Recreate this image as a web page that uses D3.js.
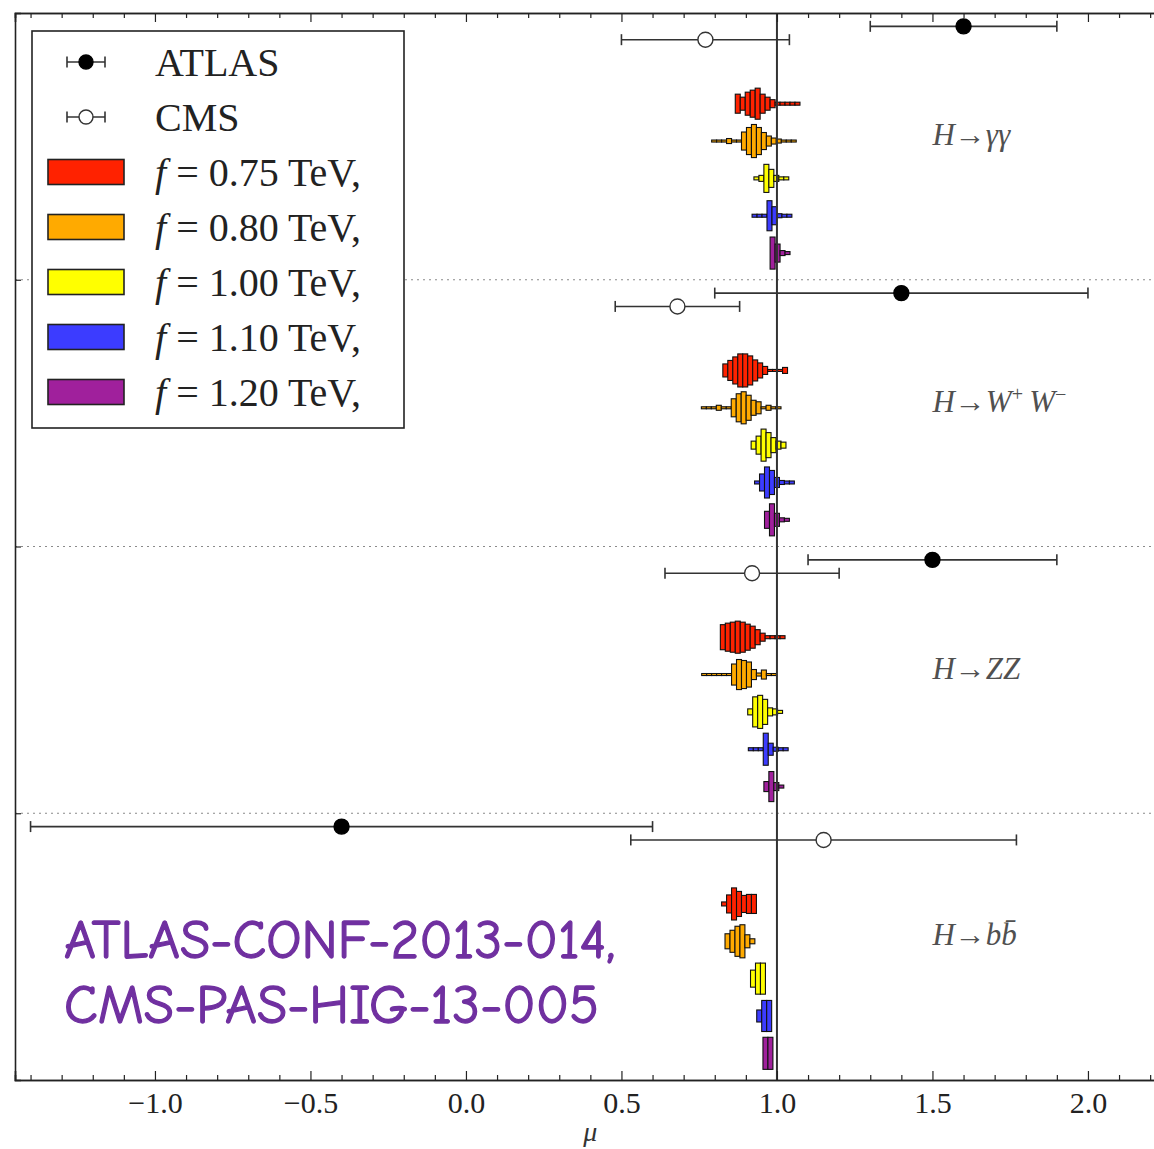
<!DOCTYPE html>
<html>
<head>
<meta charset="utf-8">
<script src="https://cdn.jsdelivr.net/npm/d3@7"></script>
<style>
  body { margin: 0; background: #fff; }
  svg { display: block; }
</style>
</head>
<body>
<svg id="chart" width="1154" height="1149"></svg>
<script>
// ---- Measured Higgs signal strengths (mu) per decay channel ----
const channels = ["γγ", "WW", "ZZ", "bb"];
const atlasMu = [1.6, 1.4, 1.5, -0.4];
const atlasLo = [1.3, 0.8, 1.1, -1.4];
const atlasHi = [1.9, 2.0, 1.9, 0.6];
const cmsMu = [0.77, 0.68, 0.92, 1.15];
const cmsLo = [0.50, 0.48, 0.64, 0.53];
const cmsHi = [1.04, 0.88, 1.20, 1.77];

// ---- Model predictions: distributions of mu for each scale f ----
const scalesF = ["0.75", "0.80", "1.00", "1.10", "1.20"];
const binWidth = 0.016;
// first bin edge of each histogram, [channel][f]
const histStart = [
  [0.866, 0.790, 0.926, 0.920, 0.978],
  [0.826, 0.757, 0.917, 0.928, 0.960],
  [0.818, 0.758, 0.906, 0.908, 0.958],
  [0.822, 0.833, 0.915, 0.935, 0.955]
];
// bin contents (arbitrary units), [channel][f][bin]
const histCounts = [
  [
    [19, 13, 23, 27, 31, 19, 13, 8, 3, 3, 3, 3, 3],
    [2, 2, 2, 5, 2, 2, 18, 27, 33, 27, 17, 10, 6, 4, 2, 2, 2],
    [3, 6, 28, 18, 6, 3, 3],
    [3, 3, 3, 30, 18, 4, 3, 3],
    [32, 18, 5, 3]
  ],
  [
    [13, 20, 27, 33, 33, 29, 21, 15, 8, 2, 2, 2, 6],
    [2, 2, 2, 5, 2, 2, 18, 28, 32, 25, 15, 12, 2, 5, 2, 2],
    [8, 18, 32, 25, 15, 8, 6],
    [3, 17, 31, 24, 10, 4, 3, 3],
    [17, 32, 13, 4, 3]
  ],
  [
    [25, 28, 30, 32, 30, 26, 22, 15, 8, 3, 3, 3, 3],
    [2, 2, 2, 2, 2, 2, 21, 30, 28, 25, 10, 3, 9, 2, 2],
    [6, 30, 33, 25, 8, 6, 3],
    [3, 3, 3, 32, 12, 4, 3, 3],
    [10, 30, 8, 3]
  ],
  [
    [4, 18, 32, 25, 17, 19, 19],
    [15, 22, 30, 33, 13, 5],
    [17, 31, 31],
    [12, 31, 31],
    [32, 32]
  ]
];

const majorTicks = [-1.0, -0.5, 0.0, 0.5, 1.0, 1.5, 2.0];

// ---- Styling ----
const fColors = ["#ff2200", "#ffaa00", "#ffff00", "#3c3cff", "#a0209c"];
const serif = "'Liberation Serif', 'DejaVu Serif', serif";
const ink = "#222";

const svg = d3.select("#chart");
const W = 1154, H = 1149;
svg.append("rect").attr("width", W).attr("height", H).attr("fill", "#fff");

const plot = { left: 15, top: 13, bottom: 1080 };
const x = d3.scaleLinear().domain([-1.45, 2.25]).range([plot.left, plot.left + 3.7 * 311]);
const y = d3.scaleLinear().domain([0, 40]).range([plot.bottom, plot.top]);
const rowUnit = y(0) - y(1);
const hScale = d3.scaleLinear().domain([0, 33]).range([0, rowUnit * 1.24]);

// vertical slot of each row inside a channel block (block height = 10)
const atlasOffset = 9.5, cmsOffset = 9.0;
const histOffsets = [6.6, 5.2, 3.8, 2.4, 1.0];
const labelOffset = 5.45;
const blockBase = c => (channels.length - 1 - c) * 10;

// separators between channel blocks
svg.append("g").selectAll("line")
  .data([10, 20, 30])
  .join("line")
  .attr("x1", plot.left).attr("x2", W)
  .attr("y1", d => y(d)).attr("y2", d => y(d))
  .attr("stroke", "#8a8a8a").attr("stroke-width", 1.2)
  .attr("stroke-dasharray", "2,4");

// prediction histograms, drawn as bins centred on each row
const histG = svg.append("g");
channels.forEach((ch, c) => {
  scalesF.forEach((f, k) => {
    const cy = y(blockBase(c) + histOffsets[k]);
    const start = histStart[c][k];
    histG.append("g").selectAll("rect")
      .data(histCounts[c][k])
      .join("rect")
      .attr("x", (n, i) => x(start + i * binWidth))
      .attr("width", (n, i) => x(start + (i + 1) * binWidth) - x(start + i * binWidth))
      .attr("y", n => cy - hScale(n) / 2)
      .attr("height", n => hScale(n))
      .attr("fill", fColors[k])
      .attr("stroke", "#111")
      .attr("stroke-width", 1.1);
  });
});

// SM expectation mu = 1
svg.append("line")
  .attr("x1", x(1)).attr("x2", x(1))
  .attr("y1", plot.top).attr("y2", plot.bottom)
  .attr("stroke", "#333").attr("stroke-width", 2);

// measurements with error bars
function errorBar(g, lo, hi, mu, cy, filled, r) {
  g.append("line").attr("x1", lo).attr("x2", hi).attr("y1", cy).attr("y2", cy)
    .attr("stroke", "#333").attr("stroke-width", 1.6);
  [lo, hi].forEach(px => g.append("line")
    .attr("x1", px).attr("x2", px).attr("y1", cy - 5.5).attr("y2", cy + 5.5)
    .attr("stroke", "#333").attr("stroke-width", 1.6));
  g.append("circle").attr("cx", mu).attr("cy", cy).attr("r", r)
    .attr("fill", filled ? "#000" : "#fff")
    .attr("stroke", filled ? "#000" : "#333").attr("stroke-width", 1.4);
}
const measG = svg.append("g");
channels.forEach((ch, c) => {
  errorBar(measG, x(atlasLo[c]), x(atlasHi[c]), x(atlasMu[c]), y(blockBase(c) + atlasOffset), true, 7.5);
  errorBar(measG, x(cmsLo[c]), x(cmsHi[c]), x(cmsMu[c]), y(blockBase(c) + cmsOffset), false, 7.5);
});

// channel labels
const labG = svg.append("g")
  .attr("font-family", serif).attr("font-size", 31).attr("font-style", "italic").attr("fill", "#505050");
channels.forEach((ch, c) => {
  const t = labG.append("text")
    .attr("x", x(1.5)).attr("y", y(blockBase(c) + labelOffset)).attr("dy", "0.35em");
  t.append("tspan").text("H");
  t.append("tspan").attr("font-style", "normal").text("→");
  if (ch === "WW") {
    t.append("tspan").text("W");
    t.append("tspan").attr("font-size", "65%").attr("baseline-shift", "super").attr("font-style", "normal").text("+");
    t.append("tspan").text("\u2009W");
    t.append("tspan").attr("font-size", "65%").attr("baseline-shift", "super").attr("font-style", "normal").text("−");
  } else if (ch === "bb") {
    t.append("tspan").text("bb\u0304");
  } else {
    t.append("tspan").text(ch);
  }
});

// axes: ticks point inwards on all sides
const minorTicks = d3.range(-14, 23).map(d => d / 10).filter(v => !majorTicks.some(m => Math.abs(m - v) < 1e-9));
const fmt = d3.format(".1f");

const bottomMajor = svg.append("g").attr("transform", `translate(0,${plot.bottom})`)
  .call(d3.axisBottom(x).tickValues(majorTicks).tickFormat(fmt).tickSize(-9).tickPadding(12));
const bottomMinor = svg.append("g").attr("transform", `translate(0,${plot.bottom})`)
  .call(d3.axisBottom(x).tickValues(minorTicks).tickFormat("").tickSize(-5));
const topMajor = svg.append("g").attr("transform", `translate(0,${plot.top})`)
  .call(d3.axisTop(x).tickValues(majorTicks).tickFormat("").tickSize(-9));
const topMinor = svg.append("g").attr("transform", `translate(0,${plot.top})`)
  .call(d3.axisTop(x).tickValues(minorTicks).tickFormat("").tickSize(-5));
const leftAxis = svg.append("g").attr("transform", `translate(${plot.left},0)`)
  .call(d3.axisLeft(y).tickValues([10, 20, 30]).tickFormat("").tickSize(-6));

[bottomMajor, bottomMinor, topMajor, topMinor, leftAxis].forEach(g => {
  g.select(".domain").attr("stroke", ink).attr("stroke-width", 1.6);
  g.selectAll(".tick line").attr("stroke", ink).attr("stroke-width", 1.2);
});
bottomMajor.selectAll(".tick text")
  .attr("font-family", serif).attr("font-size", 30).attr("fill", "#222");

// axis title
svg.append("text")
  .attr("x", x(0.4)).attr("y", 1141)
  .attr("text-anchor", "middle")
  .attr("font-family", serif).attr("font-style", "italic").attr("font-size", 28).attr("fill", "#333")
  .text("μ");

// legend
const leg = svg.append("g");
leg.append("rect").attr("x", 32).attr("y", 31).attr("width", 372).attr("height", 397)
  .attr("fill", "#fff").attr("stroke", ink).attr("stroke-width", 1.6);
const rowY = i => 62 + i * 55;
const legText = (i) => leg.append("text").attr("x", 155).attr("y", rowY(i)).attr("dy", "0.35em")
  .attr("font-family", serif).attr("font-size", 40).attr("fill", "#222");

errorBar(leg, 67, 105, 86, rowY(0), true, 7);
legText(0).text("ATLAS");
errorBar(leg, 67, 105, 86, rowY(1), false, 7);
legText(1).text("CMS");
scalesF.forEach((f, k) => {
  const i = k + 2;
  leg.append("rect").attr("x", 48).attr("y", rowY(i) - 12.5).attr("width", 76).attr("height", 25)
    .attr("fill", fColors[k]).attr("stroke", ink).attr("stroke-width", 1.6);
  const t = legText(i);
  t.append("tspan").attr("font-style", "italic").text("f");
  t.append("tspan").text("\u2005=\u2005" + f + " TeV,");
});

// source references
const refG = svg.append("g")
  .attr("font-family", "'Comic Sans MS', 'Comic Neue', 'Noto Sans', sans-serif")
  .attr("font-size", 55).attr("fill", "#7030a0")
  .attr("stroke", "#7030a0").attr("stroke-width", 1.3);
refG.append("text").attr("x", 64).attr("y", 958).text("ATLAS-CONF-2013-014,");
refG.append("text").attr("x", 64).attr("y", 1023).text("CMS-PAS-HIG-13-005");
</script>
</body>
</html>
